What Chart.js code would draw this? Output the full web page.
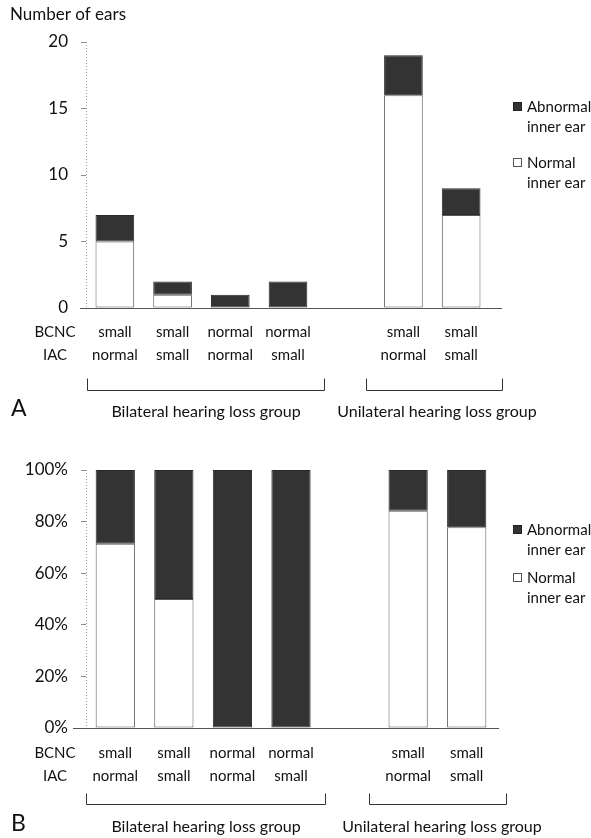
<!DOCTYPE html>
<html><head><meta charset="utf-8">
<script src="https://cdn.jsdelivr.net/npm/chart.js@4/dist/chart.umd.min.js"></script>
<style>
html,body{margin:0;padding:0;background:#fff;}
#wrap{position:relative;width:591px;height:838px;overflow:hidden;}
#c1{position:absolute;left:0;top:0;}
#c2{position:absolute;left:0;top:440px;}
</style></head><body>
<div id="wrap"><canvas id="c1" width="591" height="440"></canvas><canvas id="c2" width="591" height="398"></canvas></div>
<script>
// ---- data ----
const bcnc = ['small','small','normal','normal','','small','small'];
const iac = ['normal','small','normal','small','','normal','small'];
const normalEars = [5,1,0,0,null,16,7];
const abnormalEars = [2,1,1,2,null,3,2];
const normalPct = [71.4,50,0,0,null,84.2,77.8];
const abnormalPct = [28.6,50,100,100,null,15.8,22.2];
const countTicks = [0,5,10,15,20];
const pctTicks = [0,20,40,60,80,100];
const seriesNames = [['Abnormal','inner ear'],['Normal','inner ear']];
const groupNames = ['Bilateral hearing loss group','Unilateral hearing loss group'];
const rowNames = ['BCNC','IAC'];
const yTitle = 'Number of ears';
const panelLetters = ['A','B'];

const FONT = 'Lato, "Open Sans", "DejaVu Sans", sans-serif';
const DARK = '#333333';
const labels = bcnc.map((b,i)=>[b, iac[i]]);

function deco(cfg){
  return {
    id:'deco',
    afterDraw(chart){
      const ctx=chart.ctx, y=chart.scales.y, ca=chart.chartArea;
      ctx.save();
      // dotted y axis line
      ctx.strokeStyle='#a0a0a0'; ctx.lineWidth=1; ctx.setLineDash([1,2]);
      ctx.beginPath(); ctx.moveTo(ca.left+0.5, y.getPixelForValue(y.max)); ctx.lineTo(ca.left+0.5, ca.bottom); ctx.stroke();
      ctx.setLineDash([]);
      // baseline
      ctx.strokeStyle='#555';
      ctx.beginPath(); ctx.moveTo(cfg.axisL, Math.round(ca.bottom)+0.5); ctx.lineTo(cfg.axisR, Math.round(ca.bottom)+0.5); ctx.stroke();
      // row names
      ctx.fillStyle='#111'; ctx.font='15px '+FONT; ctx.textAlign='center'; ctx.textBaseline='middle';
      ctx.fillText(rowNames[0], 55, ca.bottom+cfg.row1);
      ctx.fillText(rowNames[1], 55, ca.bottom+cfg.row1+23);
      // brackets
      ctx.strokeStyle='#333'; ctx.lineWidth=1;
      const by = Math.round(ca.bottom+cfg.brY)+0.5;
      cfg.brackets.forEach(([l,r])=>{
        ctx.beginPath(); ctx.moveTo(l+0.5, by-cfg.brH); ctx.lineTo(l+0.5, by); ctx.lineTo(r+0.5, by); ctx.lineTo(r+0.5, by-cfg.brH); ctx.stroke();
      });
      // group names
      ctx.font='16px '+FONT; ctx.fillStyle='#111';
      groupNames.forEach((g,i)=>ctx.fillText(g, cfg.groupX[i], ca.bottom+cfg.groupY));
      // panel letter
      ctx.font='23px '+FONT; ctx.textAlign='left'; ctx.fillStyle='#111';
      ctx.fillText(cfg.letter, 11, ca.bottom+cfg.groupY-3);
      // title
      if(cfg.title){ ctx.font='17px '+FONT; ctx.textAlign='left'; ctx.fillText(cfg.title, 10, 15); }
      // legend
      ctx.font='15px '+FONT; ctx.textAlign='left';
      const fills=[DARK,'#ffffff'];
      cfg.legendY.forEach((ly,i)=>{
        ctx.fillStyle=fills[i]; ctx.fillRect(513.5, ly-4.5, 8, 8);
        ctx.strokeStyle= i===0 ? '#222' : '#555'; ctx.strokeRect(513.5, ly-4.5, 8, 8);
        ctx.fillStyle='#111';
        ctx.fillText(seriesNames[i][0], 527, ly);
        ctx.fillText(seriesNames[i][1], 527, ly+20);
      });
      ctx.restore();
    }
  };
}

const bw = c => (c.raw ? 1 : 0);

function makeChart(id, normal, abnormal, ticksArr, fmt, pad, cfg){
  return new Chart(document.getElementById(id), {
    type:'bar',
    data:{
      labels: labels,
      datasets:[
        {label:seriesNames[1].join(' '), data:normal, backgroundColor:'#ffffff', borderColor:'#5a5a5a', borderWidth:bw, borderSkipped:false, barPercentage:0.67, categoryPercentage:1},
        {label:seriesNames[0].join(' '), data:abnormal, backgroundColor:DARK, borderColor:'#2a2a2a', borderWidth:bw, borderSkipped:false, barPercentage:0.67, categoryPercentage:1}
      ]
    },
    options:{
      responsive:false, animation:false,
      layout:{padding:{left:0, top:pad.top, right:pad.right, bottom:0}},
      plugins:{legend:{display:false}, tooltip:{enabled:false}},
      scales:{
        x:{stacked:true, grid:{display:false, drawTicks:false}, border:{display:false},
           ticks:{autoSkip:false, maxRotation:0, padding:pad.xpad, color:'#111', font:{family:FONT, size:15, lineHeight:23/15}},
           afterFit(s){ s.height = pad.xh; }},
        y:{stacked:true, min:ticksArr[0], max:ticksArr[ticksArr.length-1],
           afterBuildTicks(s){ s.ticks = ticksArr.map(v=>({value:v})); },
           grid:{drawOnChartArea:false, drawTicks:true, tickLength:5, color:'#8a8a8a'}, border:{display:false},
           ticks:{padding:13, color:'#111', font:{family:FONT, size:17}, callback:fmt},
           afterFit(s){ s.width = 86; }}
      }
    },
    plugins:[deco(cfg)]
  });
}

makeChart('c1', normalEars, abnormalEars, countTicks, v=>String(v),
  {top:42, right:101, xh:132, xpad:12.5},
  {axisL:80, axisR:502, row1:24, brY:82, brH:12, brackets:[[87,324],[366,502]], groupX:[206,437], groupY:104, letter:panelLetters[0], title:yTitle, legendY:[107,163]});

makeChart('c2', normalPct, abnormalPct, pctTicks, v=>v+'%',
  {top:30, right:95, xh:110, xpad:13.5},
  {axisL:73, axisR:499, row1:25, brY:76, brH:11, brackets:[[86,325],[369,506]], groupX:[206,442], groupY:99, letter:panelLetters[1], title:null, legendY:[90,138]});
</script>
</body></html>
